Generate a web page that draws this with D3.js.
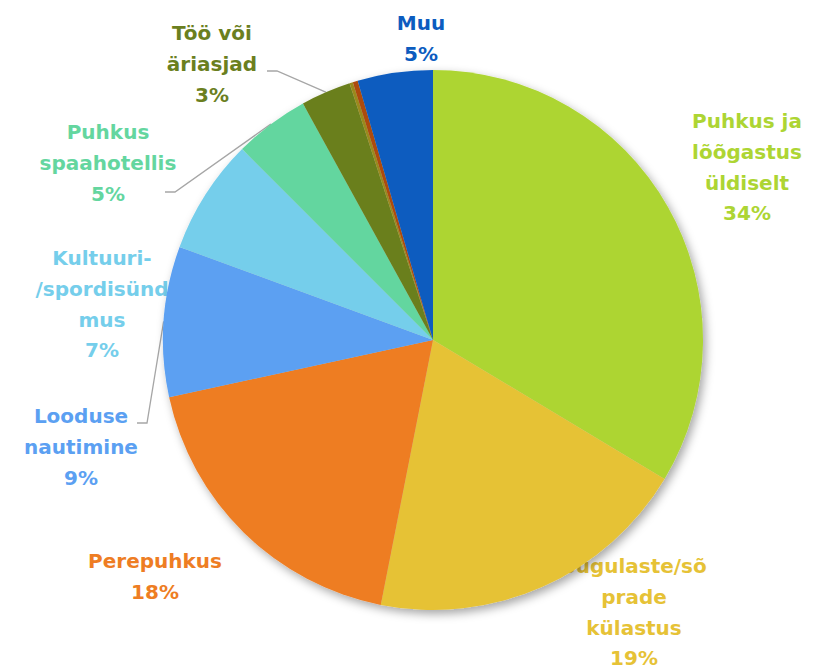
<!DOCTYPE html>
<html><head><meta charset="utf-8">
<script src="https://cdn.jsdelivr.net/npm/d3@7"></script>
<style>body{margin:0;background:#fff}svg{display:block}</style>
</head><body>
<svg id="c" width="819" height="669"></svg>
<script>
const categories = ["Puhkus ja lõõgastus üldiselt","Sugulaste/sõprade külastus","Perepuhkus","Looduse nautimine","Kultuuri-/spordisündmus","Puhkus spaahotellis","Töö või äriasjad","Muu1","Muu2","Muu"];
const values = [33.6, 19.5, 18.5, 9.0, 6.9, 4.5, 3.0, 0.2, 0.3, 4.5];
const colors = ["#add533","#e6c236","#ee7d23","#5ba0f2","#75ceeb","#64d69f","#6b7f1f","#9a8a1e","#ad4b0d","#0c5cbf"];
const labelLines = [
  ["Puhkus ja","lõõgastus","üldiselt"],
  ["Sugulaste/sõ","prade","külastus"],
  ["Perepuhkus"],
  ["Looduse","nautimine"],
  ["Kultuuri-","/spordisünd","mus"],
  ["Puhkus","spaahotellis"],
  ["Töö või","äriasjad"],
  null, null,
  ["Muu"]
];
const percentLabels = ["34%","19%","18%","9%","7%","5%","3%",null,null,"5%"];

// layout (label anchor: center x, first baseline y)
const labelPos = [[747,128],[634,573],[155,568],[81,423],[102,265],[108,139],[212,40],null,null,[421,30]];
const leaders = {3:[[137,423],[147,423]],5:[[165,192],[175,192]],6:[[267,71],[277,71]]};

const svg = d3.select("#c");
const cx = 433, cy = 340, R = 270, lh = 30.8;

const defs = svg.append("defs");
const f = defs.append("filter").attr("id","sh").attr("x","-20%").attr("y","-20%").attr("width","140%").attr("height","140%");
f.append("feDropShadow").attr("dx",3).attr("dy",4).attr("stdDeviation",5).attr("flood-color","#000").attr("flood-opacity",0.35);

const pie = d3.pie().sort(null).value(d=>d)(values);
const arc = d3.arc().innerRadius(0).outerRadius(R);

// labels (under the pie)
const lg = svg.append("g").attr("font-family","'DejaVu Sans', sans-serif").attr("font-weight","bold").attr("font-size","20px").attr("text-anchor","middle");
labelLines.forEach((lines,i)=>{
  if(!lines) return;
  const [x,y] = labelPos[i];
  const all = lines.concat([percentLabels[i]]);
  const t = lg.append("text").attr("fill",colors[i]);
  all.forEach((s,j)=>t.append("tspan").attr("x",x).attr("y",y+j*lh).text(s));
});

// leader lines
Object.entries(leaders).forEach(([k,pts])=>{
  const p = pie[+k];
  const a = (p.startAngle+p.endAngle)/2;
  const end = [cx+R*Math.sin(a), cy-R*Math.cos(a)];
  svg.append("polyline").attr("points",pts.concat([end]).map(q=>q.join(",")).join(" "))
    .attr("fill","none").attr("stroke","#a6a6a6").attr("stroke-width",1.3);
});

const g = svg.append("g").attr("transform",`translate(${cx},${cy})`).attr("filter","url(#sh)");
g.selectAll("path").data(pie).join("path").attr("d",arc).attr("fill",(d,i)=>colors[i]);
</script>
</body></html>
